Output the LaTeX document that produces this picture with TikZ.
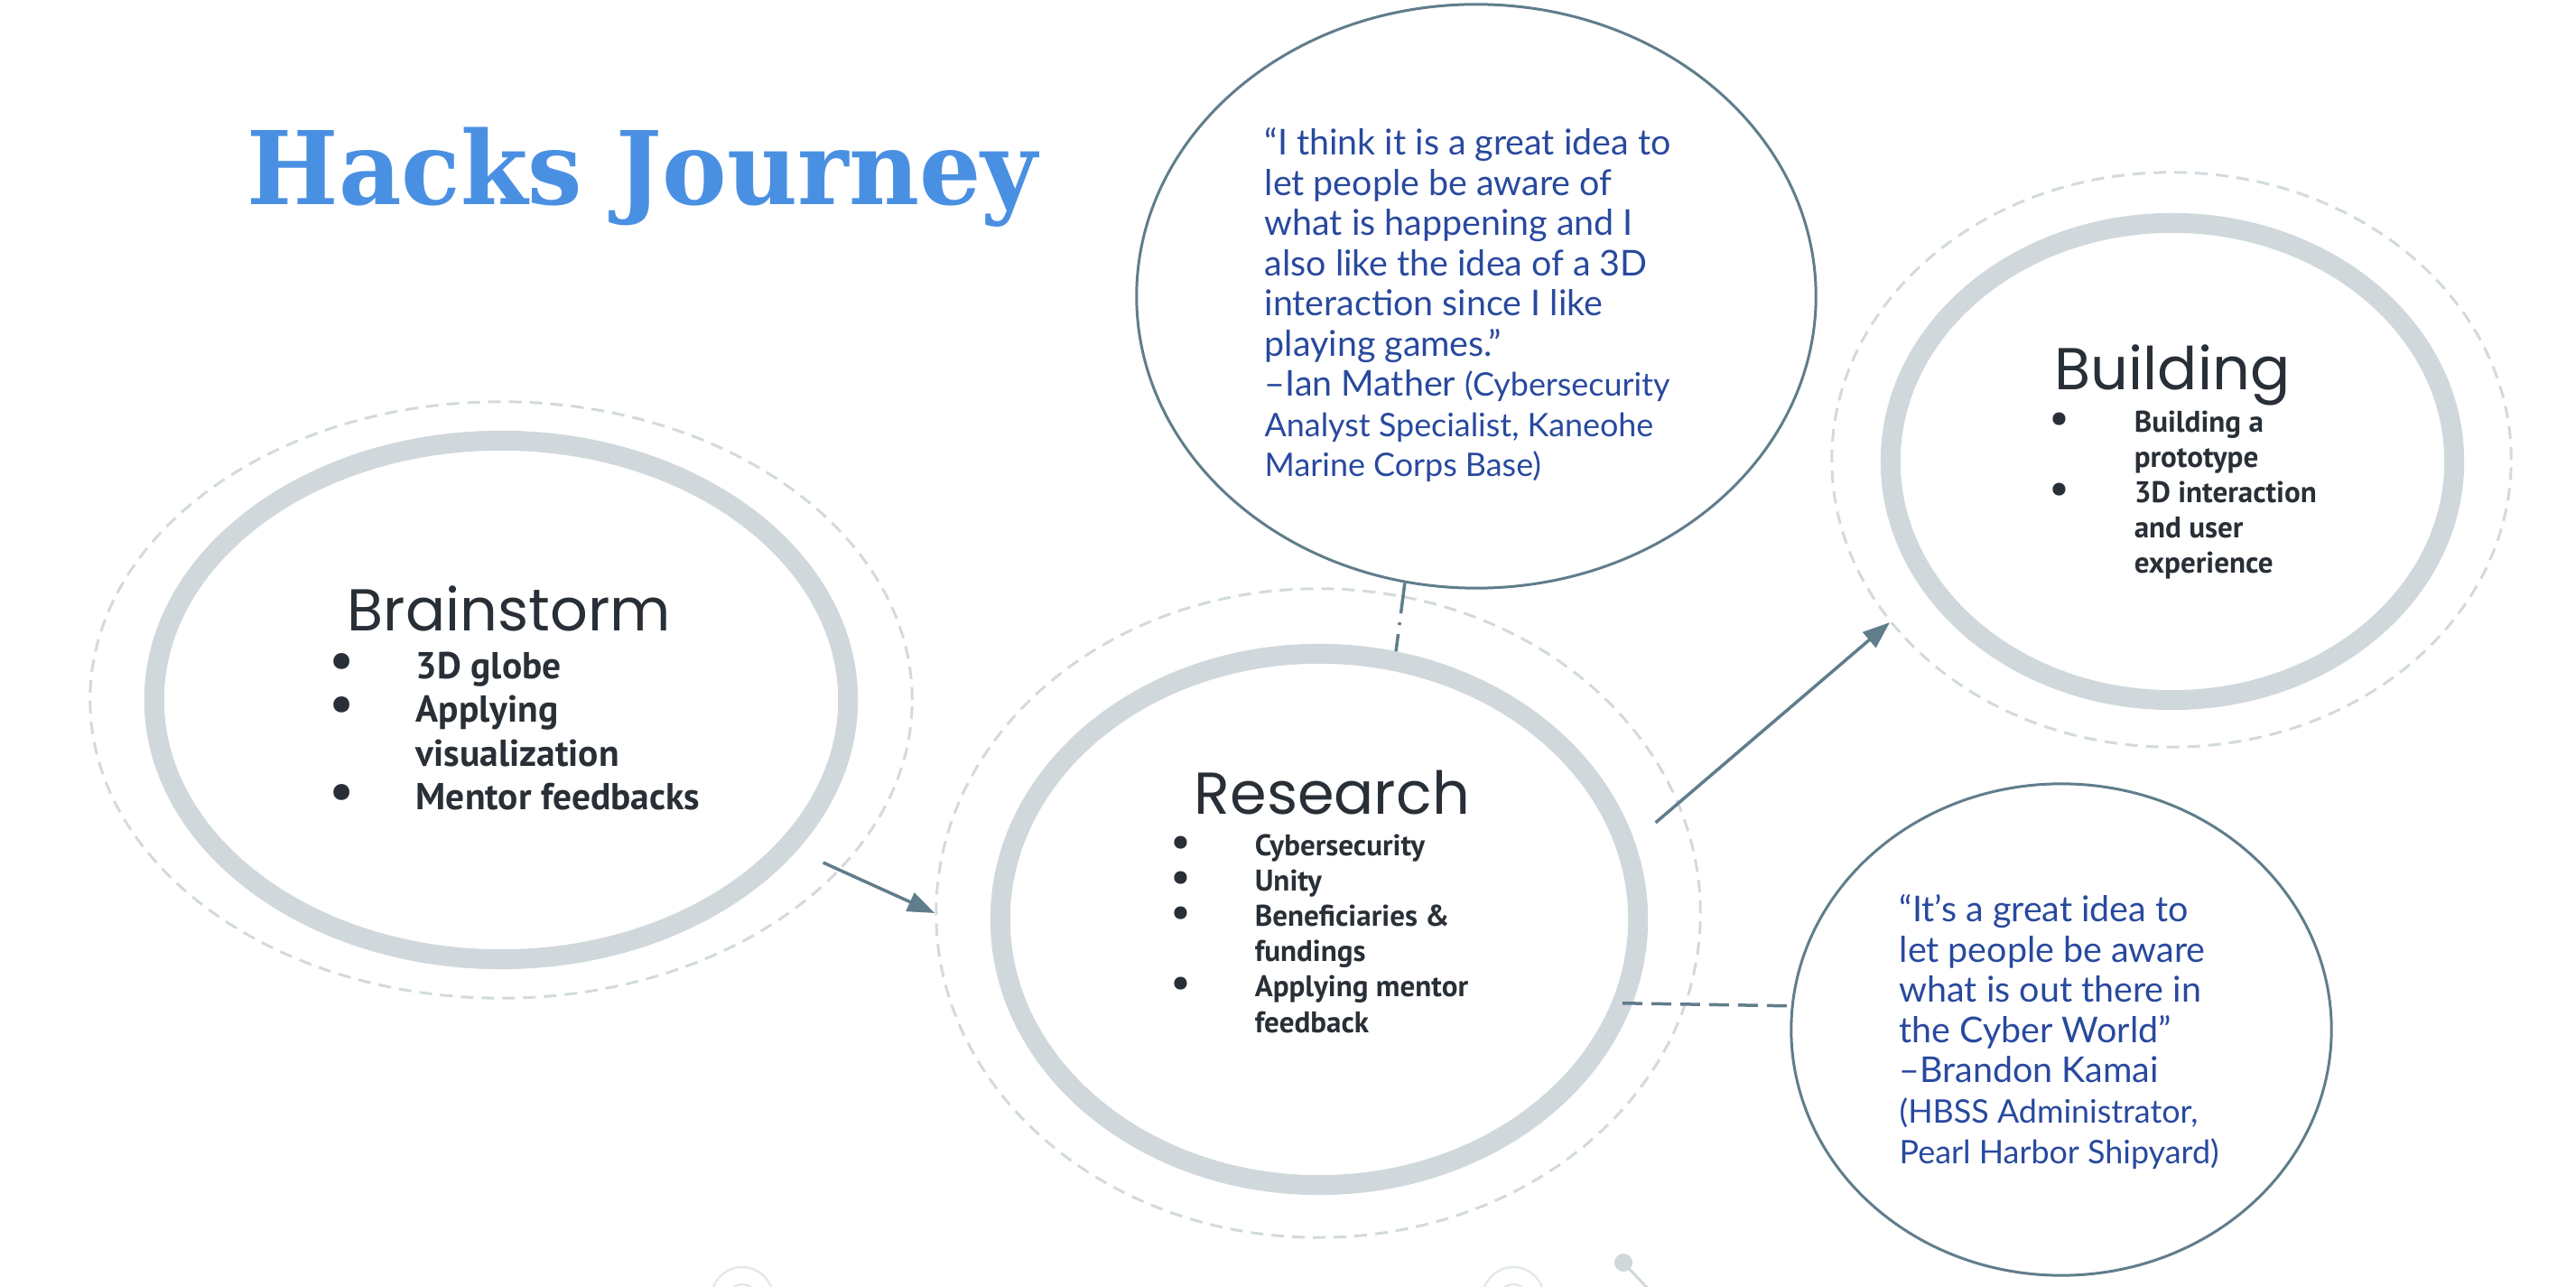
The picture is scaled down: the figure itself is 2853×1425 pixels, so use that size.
\documentclass[tikz,border=0pt]{standalone}
\usepackage{fontspec}
\usetikzlibrary{arrows.meta,positioning,shapes.geometric}
\newfontfamily\titlefont{DejaVu Serif}
\newfontfamily\headfont{Poppins}
\newfontfamily\bulfont{PT Sans}
\newfontfamily\quotefont{Lato}
\definecolor{hjTitle}{RGB}{74,144,226}
\definecolor{hjRing}{RGB}{208,216,220}
\definecolor{hjHalo}{RGB}{210,218,222}
\definecolor{hjSlate}{RGB}{96,125,139}
\definecolor{hjInk}{RGB}{41,47,54}
\definecolor{hjQuote}{RGB}{40,73,158}
\definecolor{hjFaint}{RGB}{226,232,235}

\newcommand{\bdot}{\raisebox{0.05ex}{\scalebox{1.4}{\textbullet}}}
\newcommand{\bitem}[2]{\makebox[#1][l]{\bdot}#2}
\newcommand{\bcont}[2]{\hspace*{#1}#2}
\newcommand{\qsmall}{\fontsize{10.2}{12.6}\selectfont}

\begin{document}
\begin{tikzpicture}[x=0.01cm,y=-0.01cm,
      ring/.style={ellipse,draw=hjRing,line width=0.22cm,inner sep=0pt},
      halo/.style={ellipse,draw=hjHalo,line width=0.03cm,dash pattern=on 0.14cm off 0.09cm,inner sep=0pt},
      bubble/.style={ellipse,draw=hjSlate,line width=0.03cm,inner sep=0pt},
      head/.style={font=\headfont\fontsize{18.6}{22}\selectfont,text=hjInk,inner sep=0pt,anchor=base west},
      bigList/.style={font=\bulfont\bfseries\fontsize{11.8}{13.8}\selectfont,text=hjInk,align=left,inner sep=0pt,anchor=base west},
      smallList/.style={font=\bulfont\bfseries\fontsize{9.4}{11.1}\selectfont,text=hjInk,align=left,inner sep=0pt,anchor=base west},
      quote/.style={font=\quotefont\fontsize{11.2}{12.66}\selectfont,text=hjQuote,align=left,inner sep=0pt,anchor=base west},
      arr/.style={-{Triangle[length=0.3cm,width=0.22cm]},line width=0.035cm,hjSlate},
      link/.style={line width=0.035cm,hjSlate}]
    \useasboundingbox (0,0) rectangle (2853,1425);

    \node[inner sep=0pt,anchor=base west,text=hjTitle,font=\titlefont\bfseries\fontsize{32}{36}\selectfont]
      (title) at (273,227) {\scalebox{0.955}[1]{Hacks Journey}};

    % stages
    \node[halo,minimum width=9.10cm,minimum height=6.60cm] (brainHalo) at (555,775) {};
    \node[ring,minimum width=7.68cm,minimum height=5.74cm] (brain) at (555,775) {};
    \node[halo,minimum width=8.46cm,minimum height=7.18cm] (resHalo) at (1460,1011) {};
    \node[ring,minimum width=7.06cm,minimum height=5.88cm] (res) at (1461,1018) {};
    \node[halo,minimum width=7.52cm,minimum height=6.36cm] (buildHalo) at (2405,509) {};
    \node[ring,minimum width=6.24cm,minimum height=5.28cm] (build) at (2406,511) {};

    \node[head] (brainHead) at (384,699) {Brainstorm};
    \node[bigList] (brainList) at (365,897)
      {\bitem{0.95cm}{3D globe}\\ \bitem{0.95cm}{Applying}\\ \bcont{0.95cm}{visualization}\\ \bitem{0.95cm}{Mentor feedbacks}};
    \node[head] (resHead) at (1322,902) {Research};
    \node[smallList] (resList) at (1297,1143)
      {\bitem{0.92cm}{Cybersecurity}\\ \bitem{0.92cm}{Unity}\\ \bitem{0.92cm}{Beneficiaries \&}\\ \bcont{0.92cm}{fundings}\\
       \bitem{0.92cm}{Applying mentor}\\ \bcont{0.92cm}{feedback}};
    \node[head] (buildHead) at (2275,432) {Building};
    \node[smallList] (buildList) at (2270,635)
      {\bitem{0.93cm}{Building a}\\ \bcont{0.93cm}{prototype}\\ \bitem{0.93cm}{3D interaction}\\ \bcont{0.93cm}{and user}\\ \bcont{0.93cm}{experience}};

    % interview quotes
    \node[bubble,minimum width=7.52cm,minimum height=6.46cm] (quoteA) at (1635,328) {};
    \node[bubble,minimum width=5.98cm,minimum height=5.44cm] (quoteB) at (2283,1140) {};
    \node[quote] (quoteAText) at (1400,528)
      {“I think it is a great idea to\\ let people be aware of\\ what is happening and I\\ also like the idea of a 3D\\
       interaction since I like\\ playing games.”\\ –Ian Mather {\qsmall(Cybersecurity}\\ {\qsmall Analyst Specialist, Kaneohe}\\
       {\qsmall Marine Corps Base)}};
    \node[quote] (quoteBText) at (2103,1288)
      {“It’s a great idea to\\ let people be aware\\ what is out there in\\ the Cyber World”\\ –Brandon Kamai\\
       {\qsmall(HBSS Administrator,}\\ {\qsmall Pearl Harbor Shipyard)}};

    \draw[arr,shorten <=0.32cm] (brain.-27) -- (resHalo.west);
    \draw[arr,shorten <=0.31cm] (res.14.5) -- (buildHalo.210);
    \draw[link,dash pattern=on 0.34cm off 0.1cm on 0.03cm off 0.1cm] (quoteA.256.5) -- (res.74);
    \draw[link,dash pattern=on 0.22cm off 0.1cm,shorten <=-0.11cm] (res.-15) -- (quoteB.175);

    % cut-off marks at the lower edge
    \draw[hjFaint,line width=0.025cm] (822,1437) circle (0.34cm) (822,1437) circle (0.15cm);
    \draw[hjFaint,line width=0.025cm] (1676,1437) circle (0.34cm) (1676,1437) circle (0.15cm);
    \draw[hjRing,line width=0.03cm] (1798,1398) -- (1830,1432);
    \fill[hjRing] (1798,1398) circle (0.1cm);
  \end{tikzpicture}
\end{document}
